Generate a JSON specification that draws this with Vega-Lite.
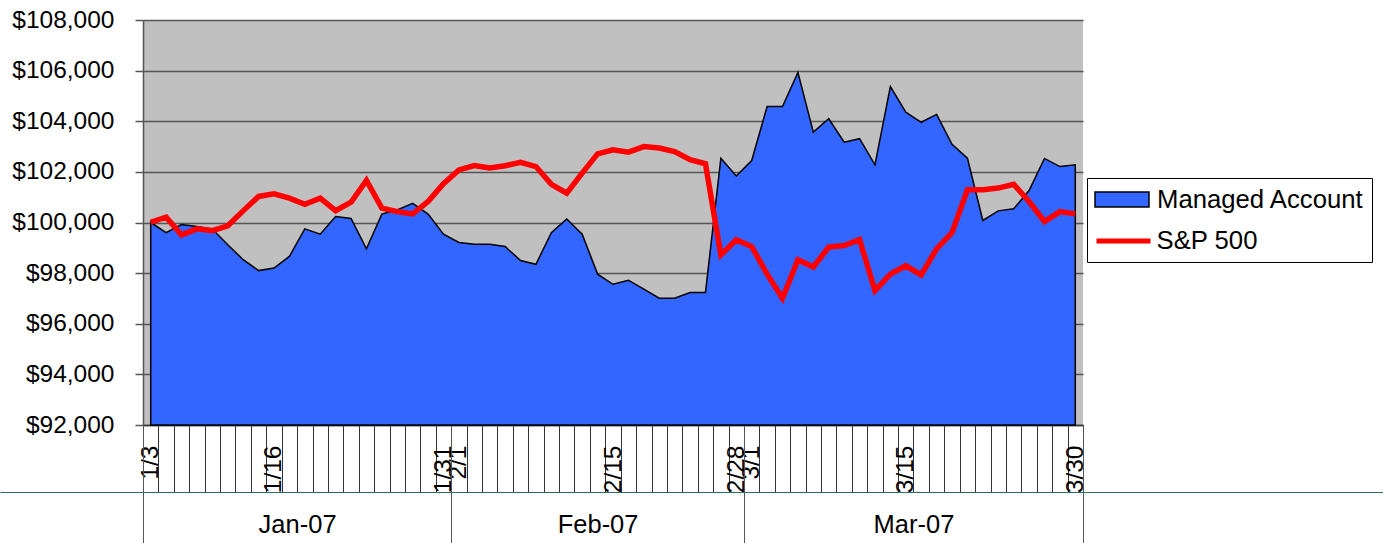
{
 "$schema": "https://vega.github.io/schema/vega-lite/v6.json",
 "width": 940,
 "height": 405,
 "autosize": "none",
 "padding": {"left": 143, "top": 20, "right": 300, "bottom": 118},
 "background": "white",
 "config": {
  "font": "Liberation Sans",
  "view": {"fill": "#C0C0C0", "stroke": null},
  "axis": {"labelFont": "Liberation Sans", "labelColor": "#000", "titleFont": "Liberation Sans"},
  "legend": {"labelFont": "Liberation Sans", "titleFont": "Liberation Sans"}
 },
 "data": {"values": [
  {"i":0,"d":"1/3","series":"Managed Account","v":100000},
  {"i":1,"d":"1/4","series":"Managed Account","v":99600},
  {"i":2,"d":"1/5","series":"Managed Account","v":99920},
  {"i":3,"d":"1/8","series":"Managed Account","v":99840},
  {"i":4,"d":"1/9","series":"Managed Account","v":99740},
  {"i":5,"d":"1/10","series":"Managed Account","v":99120},
  {"i":6,"d":"1/11","series":"Managed Account","v":98530},
  {"i":7,"d":"1/12","series":"Managed Account","v":98100},
  {"i":8,"d":"1/16","series":"Managed Account","v":98200},
  {"i":9,"d":"1/17","series":"Managed Account","v":98660},
  {"i":10,"d":"1/18","series":"Managed Account","v":99750},
  {"i":11,"d":"1/19","series":"Managed Account","v":99540},
  {"i":12,"d":"1/22","series":"Managed Account","v":100240},
  {"i":13,"d":"1/23","series":"Managed Account","v":100160},
  {"i":14,"d":"1/24","series":"Managed Account","v":98960},
  {"i":15,"d":"1/25","series":"Managed Account","v":100330},
  {"i":16,"d":"1/26","series":"Managed Account","v":100500},
  {"i":17,"d":"1/29","series":"Managed Account","v":100760},
  {"i":18,"d":"1/30","series":"Managed Account","v":100330},
  {"i":19,"d":"1/31","series":"Managed Account","v":99540},
  {"i":20,"d":"2/1","series":"Managed Account","v":99210},
  {"i":21,"d":"2/2","series":"Managed Account","v":99140},
  {"i":22,"d":"2/5","series":"Managed Account","v":99140},
  {"i":23,"d":"2/6","series":"Managed Account","v":99050},
  {"i":24,"d":"2/7","series":"Managed Account","v":98500},
  {"i":25,"d":"2/8","series":"Managed Account","v":98350},
  {"i":26,"d":"2/9","series":"Managed Account","v":99600},
  {"i":27,"d":"2/12","series":"Managed Account","v":100140},
  {"i":28,"d":"2/13","series":"Managed Account","v":99540},
  {"i":29,"d":"2/14","series":"Managed Account","v":97960},
  {"i":30,"d":"2/15","series":"Managed Account","v":97560},
  {"i":31,"d":"2/16","series":"Managed Account","v":97720},
  {"i":32,"d":"2/20","series":"Managed Account","v":97370},
  {"i":33,"d":"2/21","series":"Managed Account","v":97010},
  {"i":34,"d":"2/22","series":"Managed Account","v":97010},
  {"i":35,"d":"2/23","series":"Managed Account","v":97230},
  {"i":36,"d":"2/26","series":"Managed Account","v":97230},
  {"i":37,"d":"2/27","series":"Managed Account","v":102540},
  {"i":38,"d":"2/28","series":"Managed Account","v":101840},
  {"i":39,"d":"3/1","series":"Managed Account","v":102450},
  {"i":40,"d":"3/2","series":"Managed Account","v":104580},
  {"i":41,"d":"3/5","series":"Managed Account","v":104580},
  {"i":42,"d":"3/6","series":"Managed Account","v":105930},
  {"i":43,"d":"3/7","series":"Managed Account","v":103570},
  {"i":44,"d":"3/8","series":"Managed Account","v":104100},
  {"i":45,"d":"3/9","series":"Managed Account","v":103170},
  {"i":46,"d":"3/12","series":"Managed Account","v":103310},
  {"i":47,"d":"3/13","series":"Managed Account","v":102280},
  {"i":48,"d":"3/14","series":"Managed Account","v":105370},
  {"i":49,"d":"3/15","series":"Managed Account","v":104360},
  {"i":50,"d":"3/16","series":"Managed Account","v":103960},
  {"i":51,"d":"3/19","series":"Managed Account","v":104270},
  {"i":52,"d":"3/20","series":"Managed Account","v":103090},
  {"i":53,"d":"3/21","series":"Managed Account","v":102540},
  {"i":54,"d":"3/22","series":"Managed Account","v":100080},
  {"i":55,"d":"3/23","series":"Managed Account","v":100460},
  {"i":56,"d":"3/26","series":"Managed Account","v":100540},
  {"i":57,"d":"3/27","series":"Managed Account","v":101260},
  {"i":58,"d":"3/28","series":"Managed Account","v":102530},
  {"i":59,"d":"3/29","series":"Managed Account","v":102210},
  {"i":60,"d":"3/30","series":"Managed Account","v":102280},
  {"i":0,"d":"1/3","series":"S&P 500","v":100010},
  {"i":1,"d":"1/4","series":"S&P 500","v":100210},
  {"i":2,"d":"1/5","series":"S&P 500","v":99510},
  {"i":3,"d":"1/8","series":"S&P 500","v":99750},
  {"i":4,"d":"1/9","series":"S&P 500","v":99680},
  {"i":5,"d":"1/10","series":"S&P 500","v":99870},
  {"i":6,"d":"1/11","series":"S&P 500","v":100460},
  {"i":7,"d":"1/12","series":"S&P 500","v":101030},
  {"i":8,"d":"1/16","series":"S&P 500","v":101130},
  {"i":9,"d":"1/17","series":"S&P 500","v":100960},
  {"i":10,"d":"1/18","series":"S&P 500","v":100720},
  {"i":11,"d":"1/19","series":"S&P 500","v":100960},
  {"i":12,"d":"1/22","series":"S&P 500","v":100470},
  {"i":13,"d":"1/23","series":"S&P 500","v":100800},
  {"i":14,"d":"1/24","series":"S&P 500","v":101660},
  {"i":15,"d":"1/25","series":"S&P 500","v":100570},
  {"i":16,"d":"1/26","series":"S&P 500","v":100430},
  {"i":17,"d":"1/29","series":"S&P 500","v":100340},
  {"i":18,"d":"1/30","series":"S&P 500","v":100830},
  {"i":19,"d":"1/31","series":"S&P 500","v":101530},
  {"i":20,"d":"2/1","series":"S&P 500","v":102080},
  {"i":21,"d":"2/2","series":"S&P 500","v":102250},
  {"i":22,"d":"2/5","series":"S&P 500","v":102150},
  {"i":23,"d":"2/6","series":"S&P 500","v":102240},
  {"i":24,"d":"2/7","series":"S&P 500","v":102380},
  {"i":25,"d":"2/8","series":"S&P 500","v":102210},
  {"i":26,"d":"2/9","series":"S&P 500","v":101510},
  {"i":27,"d":"2/12","series":"S&P 500","v":101160},
  {"i":28,"d":"2/13","series":"S&P 500","v":101950},
  {"i":29,"d":"2/14","series":"S&P 500","v":102710},
  {"i":30,"d":"2/15","series":"S&P 500","v":102870},
  {"i":31,"d":"2/16","series":"S&P 500","v":102780},
  {"i":32,"d":"2/20","series":"S&P 500","v":103000},
  {"i":33,"d":"2/21","series":"S&P 500","v":102940},
  {"i":34,"d":"2/22","series":"S&P 500","v":102800},
  {"i":35,"d":"2/23","series":"S&P 500","v":102480},
  {"i":36,"d":"2/26","series":"S&P 500","v":102320},
  {"i":37,"d":"2/27","series":"S&P 500","v":98720},
  {"i":38,"d":"2/28","series":"S&P 500","v":99320},
  {"i":39,"d":"3/1","series":"S&P 500","v":99050},
  {"i":40,"d":"3/2","series":"S&P 500","v":97960},
  {"i":41,"d":"3/5","series":"S&P 500","v":97010},
  {"i":42,"d":"3/6","series":"S&P 500","v":98530},
  {"i":43,"d":"3/7","series":"S&P 500","v":98240},
  {"i":44,"d":"3/8","series":"S&P 500","v":99030},
  {"i":45,"d":"3/9","series":"S&P 500","v":99090},
  {"i":46,"d":"3/12","series":"S&P 500","v":99320},
  {"i":47,"d":"3/13","series":"S&P 500","v":97310},
  {"i":48,"d":"3/14","series":"S&P 500","v":97960},
  {"i":49,"d":"3/15","series":"S&P 500","v":98290},
  {"i":50,"d":"3/16","series":"S&P 500","v":97930},
  {"i":51,"d":"3/19","series":"S&P 500","v":98960},
  {"i":52,"d":"3/20","series":"S&P 500","v":99600},
  {"i":53,"d":"3/21","series":"S&P 500","v":101290},
  {"i":54,"d":"3/22","series":"S&P 500","v":101290},
  {"i":55,"d":"3/23","series":"S&P 500","v":101360},
  {"i":56,"d":"3/26","series":"S&P 500","v":101510},
  {"i":57,"d":"3/27","series":"S&P 500","v":100830},
  {"i":58,"d":"3/28","series":"S&P 500","v":100040},
  {"i":59,"d":"3/29","series":"S&P 500","v":100430},
  {"i":60,"d":"3/30","series":"S&P 500","v":100340}
 ]},
 "layer": [
  {
   "transform": [{"filter": "datum.series === 'Managed Account'"}],
   "mark": {"type": "area", "stroke": "#000000", "strokeWidth": 1.5, "opacity": 1, "fillOpacity": 1, "strokeJoin": "miter"},
   "encoding": {
    "x": {"field": "i", "type": "quantitative",
     "scale": {"domain": [-0.5, 60.5], "nice": false, "zero": false},
     "axis": {"orient": "bottom", "title": null, "grid": false, "labels": false,
      "values": [-0.5,0.5,1.5,2.5,3.5,4.5,5.5,6.5,7.5,8.5,9.5,10.5,11.5,12.5,13.5,14.5,15.5,16.5,17.5,18.5,19.5,20.5,21.5,22.5,23.5,24.5,25.5,26.5,27.5,28.5,29.5,30.5,31.5,32.5,33.5,34.5,35.5,36.5,37.5,38.5,39.5,40.5,41.5,42.5,43.5,44.5,45.5,46.5,47.5,48.5,49.5,50.5,51.5,52.5,53.5,54.5,55.5,56.5,57.5,58.5,59.5,60.5],
      "tickSize": 67, "tickColor": "#333333", "tickWidth": 1, "domain": true, "domainColor": "#333333", "domainWidth": 1.5}},
    "y": {"field": "v", "type": "quantitative",
     "scale": {"domain": [92000, 108000], "nice": false, "zero": false},
     "axis": {"title": null, "values": [92000,94000,96000,98000,100000,102000,104000,106000,108000], "format": "$,.0f",
      "labelFontSize": 24.5, "labelPadding": 21, "tickSize": 8, "tickColor": "#555555", "tickWidth": 1.5,
      "domainColor": "#555555", "domainWidth": 1.5, "grid": true, "gridColor": "#555555", "gridWidth": 1.5}},
    "y2": {"datum": 92000},
    "fill": {"field": "series", "type": "nominal",
     "scale": {"domain": ["Managed Account"], "range": ["#3366FF"]},
     "legend": {"title": " ", "titleOrient": "bottom", "titleFontSize": 1, "titlePadding": 42,
      "orient": "none", "legendX": 944, "legendY": 158, "padding": 7,
      "strokeColor": "#000000", "fillColor": "#FFFFFF", "labelFontSize": 25.7, "labelColor": "#000000", "labelLimit": 0,
      "symbolType": "M-1,-0.56H3V0.56H-1Z", "symbolSize": 729, "symbolStrokeColor": "#000000", "symbolStrokeWidth": 1.5,
      "symbolOpacity": 1, "labelOffset": 34}}
   }
  },
  {
   "transform": [{"filter": "datum.series === 'S&P 500'"}],
   "mark": {"type": "line", "strokeWidth": 5.5, "strokeJoin": "miter", "strokeCap": "butt"},
   "encoding": {
    "x": {"field": "d", "type": "ordinal", "sort": null,
     "scale": {"type": "point", "padding": 0.5},
     "axis": {"orient": "bottom", "title": null, "grid": false,
      "values": ["1/3","1/16","1/31","2/1","2/15","2/28","3/1","3/15","3/30"],
      "labelAngle": -90, "labelFontSize": 24.5, "labelOverlap": false, "labelPadding": 20,
      "ticks": false, "tickSize": 0, "domain": false}},
    "y": {"field": "v", "type": "quantitative"},
    "stroke": {"field": "series", "type": "nominal",
     "scale": {"domain": ["S&P 500"], "range": ["#FF0000"]},
     "legend": {"title": null, "orient": "none", "legendX": 944, "legendY": 198, "padding": 7,
      "labelFontSize": 25.7, "labelColor": "#000000", "labelLimit": 0,
      "symbolType": "M-1,0H3", "symbolSize": 729, "symbolStrokeWidth": 5, "symbolOpacity": 1, "symbolFillColor": "transparent",
      "labelOffset": 30.5, "zindex": 1}}
   }
  },
  {
   "mark": {"type": "rule", "strokeOpacity": 0},
   "encoding": {
    "x": {"field": "i", "type": "quantitative",
     "scale": {"domain": [-0.5, 60.5], "nice": false, "zero": false},
     "axis": {"orient": "bottom", "title": null, "grid": false, "labels": false, "domain": false,
      "values": [-0.5, 19.5, 38.5, 60.5], "tickSize": 118, "tickColor": "#555555", "tickWidth": 1}}
   }
  },
  {
   "mark": {"type": "rule", "strokeOpacity": 0},
   "encoding": {
    "x": {"field": "i", "type": "quantitative",
     "scale": {"domain": [-9.78, 79.97], "range": [-143, 1240], "nice": false, "zero": false},
     "axis": {"orient": "bottom", "offset": 67, "title": null, "grid": false,
      "values": [9.5, 29, 49.5],
      "labelExpr": "datum.value < 19.5 ? 'Jan-07' : datum.value < 38.5 ? 'Feb-07' : 'Mar-07'",
      "labelFontSize": 25.5, "labelPadding": 20, "labelFlush": false,
      "ticks": false, "tickSize": 0, "domain": true, "domainColor": "#2F6B6B", "domainWidth": 1.2}}
   }
  }
 ],
 "resolve": {"scale": {"x": "independent"}, "axis": {"x": "independent"}}
}
